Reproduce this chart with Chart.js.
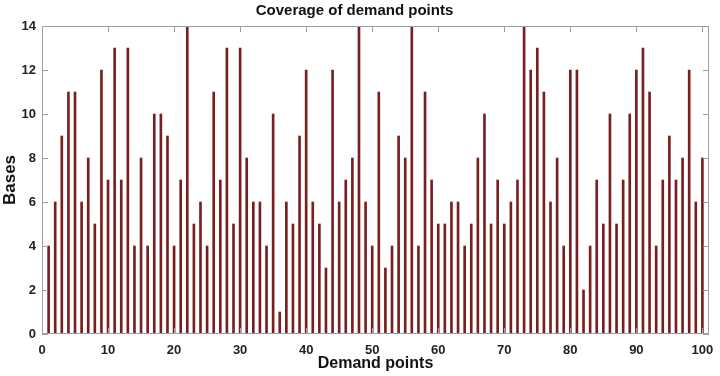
<!DOCTYPE html>
<html>
<head>
<meta charset="utf-8">
<script src="https://cdn.jsdelivr.net/npm/chart.js@4.4.1/dist/chart.umd.min.js"></script>
<style>
  body { margin: 0; background: #ffffff; }
  #wrap { width: 720px; height: 376px; }
</style>
</head>
<body>
<div id="wrap"><canvas id="coverageChart" width="720" height="376"></canvas></div>
<script>
// demand points 1..100 and the number of bases covering each one
var demandPoints = [];
for (var i = 1; i <= 100; i++) demandPoints.push(i);

var bases = [
    4, 6, 9, 11, 11, 6, 8, 5, 12, 7, 13, 7, 13, 4, 8, 4, 10, 10, 9, 4,
    7, 14, 5, 6, 4, 11, 7, 13, 5, 13, 8, 6, 6, 4, 10, 1, 6, 5, 9, 12,
    6, 5, 3, 12, 6, 7, 8, 14, 6, 4, 11, 3, 4, 9, 8, 14, 4, 11, 7, 5,
    5, 6, 6, 4, 5, 8, 10, 5, 7, 5, 6, 7, 14, 12, 13, 11, 6, 8, 4, 12,
    12, 2, 4, 7, 5, 10, 5, 7, 10, 12, 13, 11, 4, 7, 9, 7, 8, 12, 6, 8
];

var xTicks = [0, 10, 20, 30, 40, 50, 60, 70, 80, 90, 100];
var yTicks = [0, 2, 4, 6, 8, 10, 12, 14];

var points = demandPoints.map(function (d, idx) { return { x: d, y: bases[idx] }; });

var fontFam = "'Liberation Sans', Arial, sans-serif";

// matlab style box with ticks pointing inwards
var boxPlugin = {
    id: 'boxTicks',
    afterDatasetsDraw: function (chart) {
        var ctx = chart.ctx;
        var a = chart.chartArea;
        var xs = chart.scales.x, ys = chart.scales.y;
        ctx.save();
        ctx.strokeStyle = '#a0a0a0';
        ctx.lineWidth = 1;
        ctx.strokeRect(a.left + 0.5, a.top + 0.5, a.right - a.left - 1, a.bottom - a.top - 1);
        ctx.beginPath();
        xTicks.forEach(function (t) {
            var px = Math.round(xs.getPixelForValue(t)) + 0.5;
            ctx.moveTo(px, a.bottom); ctx.lineTo(px, a.bottom - 6);
            ctx.moveTo(px, a.top); ctx.lineTo(px, a.top + 6);
        });
        yTicks.forEach(function (t) {
            var py = Math.round(ys.getPixelForValue(t)) + 0.5;
            ctx.moveTo(a.left, py); ctx.lineTo(a.left + 6, py);
            ctx.moveTo(a.right, py); ctx.lineTo(a.right - 6, py);
        });
        ctx.stroke();
        ctx.restore();
    }
};

var ctx = document.getElementById('coverageChart').getContext('2d');
var coverageChart = new Chart(ctx, {
    type: 'bar',
    data: {
        datasets: [{
            label: 'Bases',
            data: points,
            backgroundColor: '#7a1f1f',
            borderWidth: 0,
            barThickness: 2
        }]
    },
    plugins: [boxPlugin],
    options: {
        responsive: false,
        animation: false,
        layout: { padding: { left: 0, right: 11, top: 0, bottom: 3 } },
        plugins: {
            legend: { display: false },
            tooltip: { enabled: false },
            title: {
                display: true,
                text: 'Coverage of demand points',
                color: '#111111',
                font: { family: fontFam, size: 15, weight: 'bold' },
                padding: { top: 2, bottom: 6 }
            }
        },
        scales: {
            x: {
                type: 'linear',
                min: 0,
                max: 101,
                offset: false,
                afterBuildTicks: function (scale) {
                    scale.ticks = xTicks.map(function (v) { return { value: v }; });
                },
                afterFit: function (scale) { scale.height = 39; },
                grid: { display: true, drawOnChartArea: false, drawTicks: true, tickLength: 4, tickColor: 'rgba(0,0,0,0)' },
                border: { display: false },
                ticks: {
                    color: '#222222',
                    padding: 5,
                    maxRotation: 0,
                    font: { family: fontFam, size: 13, weight: 'bold' }
                },
                title: {
                    display: true,
                    text: 'Demand points',
                    color: '#111111',
                    padding: { top: 0, bottom: 0 },
                    font: { family: fontFam, size: 16, weight: 'bold' }
                }
            },
            y: {
                min: 0,
                max: 14,
                afterBuildTicks: function (scale) {
                    scale.ticks = yTicks.map(function (v) { return { value: v }; });
                },
                afterFit: function (scale) { scale.width = 42; },
                grid: { display: false, drawTicks: false },
                border: { display: false },
                ticks: {
                    color: '#222222',
                    padding: 6,
                    font: { family: fontFam, size: 13, weight: 'bold' }
                },
                title: {
                    display: true,
                    text: 'Bases',
                    color: '#111111',
                    padding: { top: 0, bottom: 0 },
                    font: { family: fontFam, size: 17, weight: 'bold' }
                }
            }
        }
    }
});
</script>
</body>
</html>
